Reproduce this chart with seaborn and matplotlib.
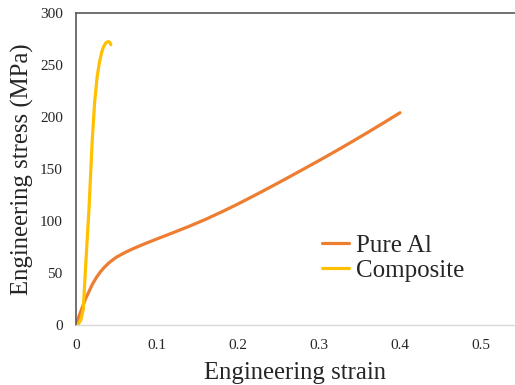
import numpy as np
import pandas as pd
import matplotlib
matplotlib.use("Agg")
import matplotlib.pyplot as plt
import seaborn as sns

# Data
al_strain = [0, 0.004, 0.008, 0.012, 0.0165, 0.02, 0.025, 0.03, 0.035, 0.041, 0.05,
             0.062, 0.07, 0.082, 0.10, 0.12, 0.14, 0.16, 0.18, 0.20, 0.22, 0.24,
             0.26, 0.28, 0.30, 0.32, 0.34, 0.36, 0.38, 0.40]
al_stress = [0, 9, 17.5, 25.5, 33, 38.8, 45.5, 51, 55.5, 60, 65.3,
             70.3, 73.2, 77.2, 82.8, 88.8, 95, 101.6, 108.8, 116.4, 124.4, 132.6,
             141, 149.5, 158.1, 166.9, 175.9, 185.1, 194.5, 204.1]

comp_strain = [0, 0.003, 0.006, 0.009, 0.012, 0.016, 0.020, 0.023, 0.026, 0.029,
               0.032, 0.034, 0.037, 0.040, 0.042, 0.043]
comp_stress = [0, 1, 5, 15, 58, 111, 177, 214, 238, 253,
               263, 267.5, 271.5, 272.5, 271.5, 269.5]

series_names = ["Pure Al", "Composite"]
x_ticks = [0, 0.1, 0.2, 0.3, 0.4, 0.5]
x_tick_labels = ["0", "0.1", "0.2", "0.3", "0.4", "0.5"]
y_ticks = [0, 50, 100, 150, 200, 250, 300]

df = pd.concat([
    pd.DataFrame({"strain": al_strain, "stress": al_stress, "series": series_names[0]}),
    pd.DataFrame({"strain": comp_strain, "stress": comp_stress, "series": series_names[1]}),
], ignore_index=True)

sns.set_style("white")
plt.rcParams["font.family"] = ["Liberation Serif", "DejaVu Serif"]

fig = plt.figure(figsize=(5.15, 3.85), dpi=100)
ax = fig.add_axes([76 / 515, 1 - 325 / 385, 1 - 76 / 515, (325 - 13) / 385])

sns.lineplot(data=df, x="strain", y="stress", hue="series", sort=False,
             palette={"Pure Al": "#ED7D31", "Composite": "#FFC000"},
             linewidth=2.3, ax=ax, estimator=None)
for ln in ax.get_lines():
    ln.set_solid_capstyle("round")
    ln.set_solid_joinstyle("round")

ax.set_xlim(0, (515 - 76) / 810)
ax.set_ylim(0, 300)
ax.set_xticks(x_ticks)
ax.set_xticklabels(x_tick_labels)
ax.set_yticks(y_ticks)
ax.tick_params(axis="both", length=0, labelsize=11)
ax.tick_params(axis="y", pad=9.5)
ax.tick_params(axis="x", pad=10)

for side in ["top", "left"]:
    ax.spines[side].set_color("#595959")
    ax.spines[side].set_linewidth(1.2)
ax.spines["bottom"].set_color("#D9D9D9")
ax.spines["bottom"].set_linewidth(1.0)
ax.spines["right"].set_visible(False)

ax.set_xlabel("Engineering strain", fontsize=17.8, labelpad=7)
ax.set_ylabel("Engineering stress (MPa)", fontsize=17.8, labelpad=4)

leg = ax.legend(loc="upper left", bbox_to_anchor=(0.56, 0.29), frameon=False,
                fontsize=18, handlelength=1.1, handletextpad=0.25, labelspacing=0.1,
                borderaxespad=0, borderpad=0)
for line in leg.get_lines():
    line.set_linewidth(2.3)

fig.savefig("out.png", dpi=100)
